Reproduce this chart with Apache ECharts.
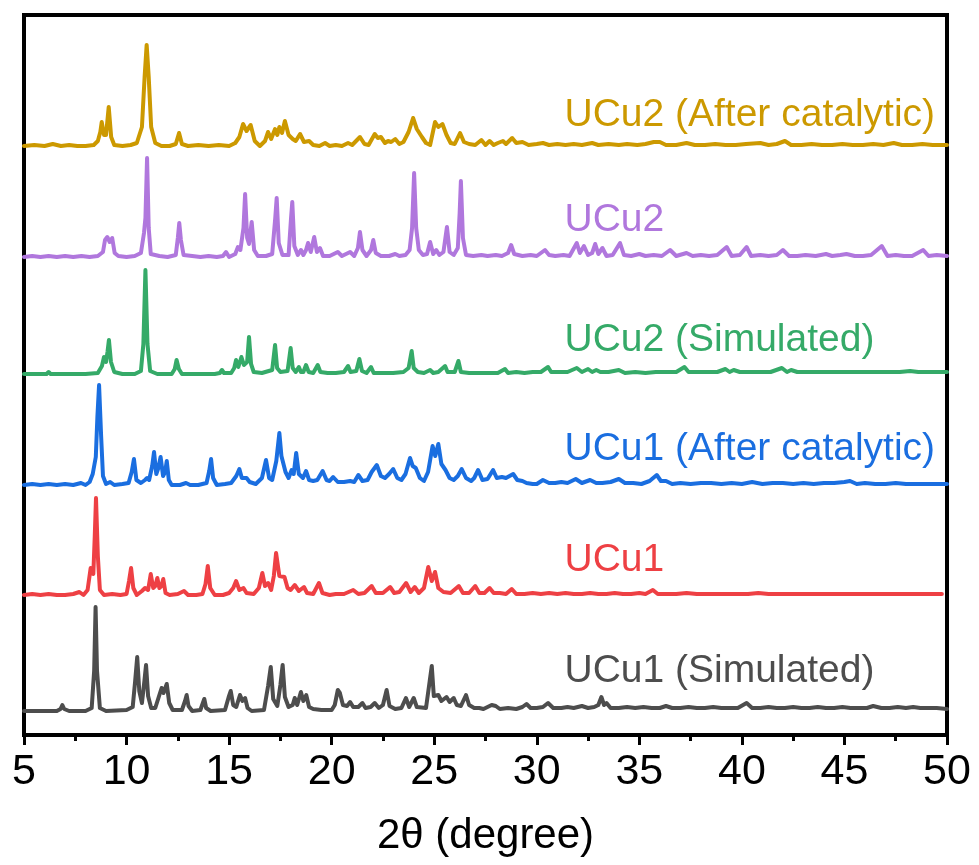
<!DOCTYPE html>
<html>
<head>
<meta charset="utf-8">
<script src="https://cdn.jsdelivr.net/npm/echarts@6/dist/echarts.min.js"></script>
<style>
html,body{margin:0;padding:0;background:#fff;}
#chart{width:979px;height:865px;}
</style>
</head>
<body>
<div id="chart"></div>
<script>
// Tick labels of the 2θ axis
var xTicks = [5, 10, 15, 20, 25, 30, 35, 40, 45, 50];

// Series names (top to bottom) and their colors
var seriesNames = ['UCu2 (After catalytic)', 'UCu2', 'UCu2 (Simulated)', 'UCu1 (After catalytic)', 'UCu1', 'UCu1 (Simulated)'];
var seriesColors = ['#CC9900', '#B077DD', '#35AA68', '#1A6EE0', '#EE4044', '#4D4D4D'];
// vertical offset (stacking) of each pattern, in intensity units
var offsets = [588, 477, 361, 249, 139, 24];

// Intensity data [2θ, intensity]
var ucu2After = [[5.0,1],[5.5,2],[6.0,1],[6.4,3],[6.8,1],[7.2,2],[7.6,1],[8.0,1],[8.4,2],[8.6,6],[8.72,15],[8.79,25],[8.9,12],[9.0,12],[9.13,40],[9.25,10],[9.4,2],[9.8,1],[10.2,2],[10.5,4],[10.75,20],[10.88,70],[10.98,102],[11.08,70],[11.2,20],[11.4,4],[11.7,1],[12.1,1],[12.4,3],[12.56,14],[12.7,3],[13.0,1],[13.5,2],[14.0,1],[14.5,2],[15.0,1],[15.3,4],[15.5,10],[15.68,23],[15.85,16],[16.05,22],[16.25,6],[16.5,1],[16.75,6],[16.9,15],[17.05,8],[17.24,18],[17.35,12],[17.45,20],[17.58,14],[17.72,26],[17.9,12],[18.1,8],[18.25,6],[18.46,13],[18.65,5],[18.9,6],[19.1,2],[19.4,1],[19.68,4],[19.9,1],[20.2,2],[20.5,1],[20.8,4],[21.0,2],[21.38,10],[21.6,3],[21.8,2],[22.1,13],[22.25,9],[22.4,10],[22.6,4],[22.75,6],[22.9,5],[23.1,8],[23.3,3],[23.5,5],[23.75,15],[23.97,29],[24.15,18],[24.4,10],[24.6,4],[24.8,2],[25.04,25],[25.2,20],[25.4,23],[25.6,12],[25.8,4],[26.0,3],[26.26,14],[26.45,5],[26.7,3],[27.0,2],[27.3,7],[27.5,2],[27.7,6],[27.9,2],[28.1,4],[28.35,6],[28.5,3],[28.8,9],[29.0,4],[29.3,5],[29.6,2],[30.0,3],[30.3,4],[30.6,2],[31.0,3],[31.4,2],[31.8,3],[32.2,2],[32.7,4],[33.0,2],[33.5,3],[34.0,2],[34.4,3],[34.9,2],[35.3,3],[35.7,5],[36.0,5],[36.3,2],[36.8,2],[37.3,4],[37.7,2],[38.2,2],[38.7,3],[39.2,2],[39.7,2],[40.2,3],[40.9,4],[41.3,2],[41.7,3],[42.1,6],[42.4,2],[42.9,2],[43.4,3],[43.9,2],[44.4,2],[44.9,3],[45.4,2],[45.9,2],[46.4,3],[46.9,2],[47.4,4],[47.8,2],[48.3,2],[48.8,3],[49.3,2],[49.7,2],[50.0,2]];

var ucu2 = [[5.0,1],[5.4,2],[5.8,1],[6.2,2],[6.6,1],[7.0,2],[7.4,1],[7.8,2],[8.2,1],[8.6,2],[8.85,6],[8.95,18],[9.06,21],[9.18,16],[9.3,20],[9.42,5],[9.6,2],[10.0,1],[10.4,2],[10.7,5],[10.85,25],[10.92,40],[11.0,100],[11.08,30],[11.18,4],[11.6,2],[12.0,1],[12.4,3],[12.5,20],[12.57,35],[12.65,18],[12.78,3],[13.2,2],[13.6,1],[14.0,2],[14.4,1],[14.7,2],[14.85,6],[15.0,1],[15.3,4],[15.43,11],[15.55,8],[15.7,30],[15.78,64],[15.88,20],[15.97,14],[16.1,36],[16.22,8],[16.4,2],[16.8,2],[17.1,4],[17.25,40],[17.32,60],[17.42,15],[17.6,3],[17.9,3],[18.02,40],[18.08,56],[18.18,12],[18.35,3],[18.5,8],[18.62,3],[18.75,8],[18.85,15],[18.98,6],[19.15,21],[19.28,6],[19.43,10],[19.58,2],[19.9,2],[20.3,6],[20.5,2],[20.9,6],[21.1,2],[21.28,10],[21.38,26],[21.5,8],[21.7,2],[21.92,8],[22.03,18],[22.15,5],[22.4,2],[22.8,2],[23.1,4],[23.3,2],[23.6,3],[23.8,8],[23.92,30],[24.02,85],[24.12,30],[24.25,8],[24.45,3],[24.65,4],[24.8,16],[24.95,4],[25.1,8],[25.25,3],[25.45,6],[25.62,31],[25.75,6],[25.95,3],[26.15,10],[26.24,45],[26.3,77],[26.4,20],[26.55,3],[26.9,2],[27.3,3],[27.6,2],[28.0,3],[28.3,2],[28.6,5],[28.75,13],[28.9,4],[29.3,2],[29.7,3],[30.0,2],[30.4,8],[30.6,3],[30.9,2],[31.3,3],[31.6,2],[31.95,15],[32.1,5],[32.3,12],[32.5,3],[32.7,5],[32.85,14],[33.0,4],[33.2,10],[33.4,2],[33.7,3],[34.06,15],[34.25,3],[34.6,2],[35.0,4],[35.3,2],[35.7,3],[36.1,2],[36.5,8],[36.8,2],[37.3,5],[37.6,2],[38.0,3],[38.4,2],[38.8,3],[39.26,11],[39.5,2],[39.9,3],[40.23,11],[40.45,2],[40.9,3],[41.3,2],[41.7,3],[42.0,8],[42.3,2],[42.7,2],[43.1,3],[43.6,2],[44.1,4],[44.4,2],[44.8,3],[45.1,4],[45.5,2],[45.9,2],[46.3,3],[46.82,12],[47.1,2],[47.5,3],[47.9,2],[48.3,2],[48.84,8],[49.1,2],[49.5,3],[50.0,2]];

var ucu2Sim = [[5.0,0],[5.8,0],[6.1,0],[6.2,2],[6.3,0],[7.0,0],[8.0,0],[8.6,1],[8.8,8],[8.9,17],[9.0,12],[9.07,22],[9.14,34],[9.24,12],[9.4,2],[9.8,0],[10.4,0],[10.7,3],[10.82,30],[10.92,104],[11.02,30],[11.15,3],[11.5,0],[12.2,0],[12.35,5],[12.44,14],[12.55,5],[12.7,0],[14.3,0],[14.55,1],[14.65,4],[14.75,1],[15.1,1],[15.25,6],[15.34,14],[15.45,7],[15.6,17],[15.72,9],[15.88,12],[15.97,37],[16.07,10],[16.2,2],[16.6,1],[17.1,4],[17.24,29],[17.34,6],[17.5,2],[17.85,3],[18.0,26],[18.1,6],[18.25,2],[18.4,7],[18.5,2],[18.62,2],[18.75,9],[18.88,2],[19.1,1],[19.32,9],[19.45,2],[19.8,1],[20.2,1],[20.6,2],[20.8,8],[20.92,2],[21.2,3],[21.35,15],[21.48,3],[21.7,1],[21.92,7],[22.05,1],[22.5,1],[23.0,1],[23.5,2],[23.75,6],[23.9,23],[24.0,6],[24.2,2],[24.5,1],[24.8,4],[24.95,1],[25.2,2],[25.53,8],[25.65,2],[26.0,2],[26.18,13],[26.3,2],[26.7,1],[27.2,1],[27.7,1],[28.1,1],[28.45,5],[28.6,1],[29.0,2],[29.4,1],[29.8,2],[30.2,2],[30.55,7],[30.7,2],[31.1,2],[31.5,2],[31.95,6],[32.2,2],[32.5,5],[32.7,2],[32.9,4],[33.1,2],[33.5,2],[34.0,4],[34.3,1],[34.8,2],[35.3,1],[35.8,2],[36.3,2],[36.8,2],[37.2,7],[37.4,2],[37.9,2],[38.4,2],[38.8,2],[39.2,5],[39.4,2],[39.6,4],[39.9,2],[40.4,2],[40.9,2],[41.4,2],[41.95,6],[42.2,2],[42.4,4],[42.7,2],[43.2,2],[43.7,2],[44.2,2],[44.7,2],[45.2,2],[45.7,2],[46.2,2],[46.7,2],[47.2,2],[47.7,2],[48.2,3],[48.6,2],[49.1,2],[49.6,2],[50.0,2]];

var ucu1After = [[5.0,1],[5.4,2],[5.8,1],[6.2,2],[6.6,1],[7.0,2],[7.4,1],[7.78,3],[8.0,1],[8.2,4],[8.35,12],[8.5,29],[8.58,70],[8.66,101],[8.76,50],[8.85,10],[9.0,2],[9.2,4],[9.4,1],[9.8,2],[10.1,3],[10.25,14],[10.36,27],[10.48,6],[10.7,3],[10.9,6],[11.0,8],[11.1,6],[11.25,20],[11.34,34],[11.45,12],[11.55,18],[11.66,29],[11.78,10],[11.88,14],[11.96,25],[12.06,6],[12.2,1],[12.6,1],[12.9,3],[13.1,1],[13.5,1],[13.9,3],[14.03,15],[14.12,27],[14.22,8],[14.4,1],[14.8,2],[15.1,3],[15.35,10],[15.5,17],[15.62,8],[15.85,8],[16.0,4],[16.3,2],[16.6,8],[16.8,26],[16.95,8],[17.1,6],[17.3,25],[17.45,53],[17.55,30],[17.75,14],[17.9,8],[18.05,16],[18.15,12],[18.27,33],[18.4,12],[18.6,8],[18.75,15],[18.9,6],[19.1,5],[19.3,6],[19.56,15],[19.75,6],[19.9,5],[20.07,9],[20.3,4],[20.6,4],[20.9,5],[21.1,4],[21.3,11],[21.5,5],[21.75,6],[21.95,14],[22.2,21],[22.4,10],[22.6,8],[22.8,12],[23.0,17],[23.2,8],[23.4,6],[23.6,12],[23.82,28],[23.95,20],[24.1,18],[24.3,8],[24.5,5],[24.7,14],[24.92,40],[25.05,30],[25.2,42],[25.35,22],[25.55,16],[25.75,8],[25.95,6],[26.15,10],[26.34,17],[26.55,8],[26.8,5],[26.95,8],[27.14,16],[27.35,6],[27.6,7],[27.87,16],[28.05,8],[28.3,9],[28.5,8],[28.85,12],[29.05,6],[29.3,5],[29.5,3],[29.8,2],[30.0,2],[30.3,6],[30.6,3],[30.9,3],[31.2,4],[31.5,3],[31.9,7],[32.2,3],[32.6,6],[32.9,3],[33.2,3],[33.6,4],[34.0,7],[34.3,3],[34.7,3],[35.1,2],[35.5,5],[35.85,11],[36.05,5],[36.3,5],[36.6,2],[37.0,3],[37.5,2],[38.0,3],[38.5,3],[39.0,2],[39.5,3],[40.0,2],[40.5,4],[41.0,2],[41.5,3],[42.0,3],[42.5,2],[43.0,3],[43.5,2],[44.0,3],[44.5,3],[45.0,4],[45.27,5],[45.6,2],[46.0,3],[46.5,2],[47.0,2],[47.5,3],[48.0,2],[48.5,2],[49.0,2],[49.5,2],[50.0,2]];

var ucu1 = [[5.0,1],[5.4,2],[5.8,1],[6.2,2],[6.6,1],[7.0,1],[7.4,2],[7.7,4],[7.9,1],[8.1,6],[8.25,28],[8.38,22],[8.45,60],[8.51,98],[8.6,40],[8.7,6],[8.9,1],[9.3,2],[9.7,1],[10.0,2],[10.12,15],[10.22,28],[10.33,8],[10.5,1],[10.75,5],[10.9,8],[11.05,6],[11.18,22],[11.3,8],[11.4,10],[11.5,18],[11.6,8],[11.7,10],[11.79,17],[11.9,3],[12.1,1],[12.5,2],[12.8,5],[13.0,1],[13.4,1],[13.7,2],[13.85,12],[13.96,30],[14.08,8],[14.3,1],[14.7,1],[15.0,3],[15.2,8],[15.34,15],[15.5,6],[15.7,8],[15.85,3],[16.2,2],[16.45,8],[16.62,23],[16.75,10],[16.9,13],[17.05,6],[17.18,20],[17.29,43],[17.45,20],[17.7,19],[17.85,8],[18.0,6],[18.2,11],[18.4,5],[18.65,9],[18.8,3],[19.1,2],[19.38,13],[19.55,3],[19.9,1],[20.2,2],[20.6,2],[21.05,6],[21.3,2],[21.6,3],[21.95,10],[22.15,3],[22.5,3],[22.85,9],[23.05,3],[23.3,4],[23.63,13],[23.85,4],[24.05,9],[24.25,3],[24.5,8],[24.71,29],[24.88,15],[25.04,24],[25.2,8],[25.45,4],[25.8,3],[26.2,10],[26.4,3],[26.7,3],[27.0,10],[27.2,3],[27.45,3],[27.7,8],[27.9,3],[28.2,3],[28.5,2],[28.78,7],[29.0,2],[29.4,2],[29.8,3],[30.2,2],[30.6,3],[31.0,2],[31.4,3],[31.8,2],[32.2,2],[32.6,3],[33.0,2],[33.4,2],[33.8,3],[34.2,2],[34.6,2],[35.0,3],[35.3,2],[35.66,6],[35.9,2],[36.3,2],[36.8,2],[37.3,3],[37.8,2],[38.3,2],[38.8,2],[39.3,2],[39.8,2],[40.3,2],[40.8,3],[41.3,2],[41.8,2],[42.3,2],[42.8,2],[43.3,2],[43.8,2],[44.3,2],[44.8,2],[45.3,2],[45.8,2],[46.3,2],[46.8,2],[47.3,2],[47.8,2],[48.3,2],[48.8,2],[49.3,2],[49.75,2]];

var ucu1Sim = [[5.0,0],[6.0,0],[6.6,0],[6.78,2],[6.87,6],[6.96,2],[7.2,0],[8.0,0],[8.3,3],[8.42,40],[8.49,104],[8.56,40],[8.7,3],[9.0,0],[10.0,1],[10.3,4],[10.42,30],[10.52,54],[10.62,20],[10.75,8],[10.87,30],[10.95,46],[11.05,15],[11.2,3],[11.4,3],[11.6,16],[11.71,23],[11.8,18],[11.96,27],[12.08,8],[12.25,1],[12.7,1],[12.85,10],[12.93,16],[13.02,5],[13.2,0],[13.6,1],[13.72,8],[13.79,12],[13.88,3],[14.1,0],[14.8,1],[14.98,14],[15.08,20],[15.2,6],[15.35,4],[15.53,16],[15.65,10],[15.78,13],[15.9,3],[16.1,0],[16.7,1],[16.9,25],[17.03,44],[17.15,12],[17.35,5],[17.5,26],[17.61,46],[17.72,14],[17.9,4],[18.1,6],[18.2,13],[18.32,6],[18.5,19],[18.62,10],[18.76,16],[18.9,4],[19.1,2],[19.5,1],[20.0,1],[20.15,6],[20.3,21],[20.4,18],[20.55,6],[20.75,5],[20.9,9],[21.05,4],[21.3,4],[21.5,8],[21.65,3],[21.9,4],[22.1,8],[22.3,3],[22.5,6],[22.68,21],[22.82,5],[23.1,2],[23.4,3],[23.62,13],[23.78,4],[24.0,13],[24.15,4],[24.6,3],[24.78,30],[24.88,45],[24.98,15],[25.2,16],[25.35,10],[25.6,14],[25.75,9],[25.95,13],[26.1,6],[26.3,5],[26.55,16],[26.7,6],[26.95,3],[27.2,3],[27.4,2],[27.8,6],[28.0,5],[28.2,2],[28.6,3],[29.0,2],[29.3,4],[29.5,7],[29.7,3],[30.0,3],[30.3,4],[30.55,8],[30.8,3],[31.2,3],[31.5,4],[31.8,3],[32.2,5],[32.5,3],[32.8,4],[33.0,6],[33.15,14],[33.28,6],[33.4,8],[33.6,3],[34.0,3],[34.4,4],[34.8,3],[35.2,4],[35.6,3],[36.0,3],[36.3,5],[36.6,3],[37.0,3],[37.4,4],[37.8,3],[38.2,3],[38.6,4],[39.0,3],[39.4,3],[39.8,3],[40.23,8],[40.5,3],[40.9,3],[41.3,4],[41.7,3],[42.1,3],[42.5,4],[42.9,3],[43.3,3],[43.7,4],[44.1,3],[44.5,3],[44.9,4],[45.3,3],[45.7,3],[46.1,3],[46.4,5],[46.8,3],[47.2,3],[47.6,4],[48.0,3],[48.35,4],[48.7,3],[49.1,3],[49.5,3],[50.0,2]];

var allData = [ucu2After, ucu2, ucu2Sim, ucu1After, ucu1, ucu1Sim];

// Label anchor positions (data coordinates)
var labelX = 31.35;
var labelY = [620, 515, 395, 286, 175, 64];

var FONT = '"Liberation Sans", Arial, Helvetica, sans-serif';
var chart = echarts.init(document.getElementById('chart'), null, {renderer: 'canvas'});

var series = allData.map(function (d, i) {
  return {
    name: seriesNames[i],
    type: 'line',
    showSymbol: false,
    symbol: 'none',
    smooth: false,
    data: d.map(function (p) { return [p[0], p[1] + offsets[i]]; }),
    lineStyle: {color: seriesColors[i], width: 4, join: 'round', cap: 'round', opacity: 1},
    itemStyle: {color: seriesColors[i]},
    z: 3
  };
});

chart.setOption({
  animation: false,
  backgroundColor: '#ffffff',
  grid: {left: 24, right: 32, top: 15, bottom: 130, show: true, borderColor: '#000', borderWidth: 4, backgroundColor: 'transparent'},
  xAxis: {
    type: 'value',
    min: 5, max: 50, interval: 5,
    name: '2θ (degree)',
    nameLocation: 'middle',
    nameGap: 80,
    nameTextStyle: {fontSize: 42, color: '#000', fontFamily: FONT},
    axisLine: {show: true, onZero: false, lineStyle: {color: '#000', width: 4}},
    axisTick: {show: true, inside: false, length: 10, lineStyle: {color: '#000', width: 3}},
    minorTick: {show: true, splitNumber: 2, length: 6, lineStyle: {color: '#000', width: 3}},
    axisLabel: {fontSize: 43, color: '#000', fontFamily: FONT, margin: 16, formatter: function (v) { return xTicks.indexOf(v) >= 0 ? String(v) : ''; }},
    splitLine: {show: false}
  },
  yAxis: {
    type: 'value',
    min: 0, max: 720,
    axisLine: {show: false},
    axisTick: {show: false},
    axisLabel: {show: false},
    splitLine: {show: false}
  },
  series: series
});

// Text labels placed through the chart's own coordinate conversion
var graphics = seriesNames.map(function (n, i) {
  var pt = chart.convertToPixel({gridIndex: 0}, [labelX, labelY[i]]);
  return {
    type: 'text',
    x: pt[0],
    y: pt[1],
    z: 10,
    style: {
      text: n,
      fill: seriesColors[i],
      opacity: 1,
      font: '39px ' + FONT,
      align: 'left',
      verticalAlign: 'middle'
    }
  };
});
chart.setOption({graphic: graphics});
</script>
</body>
</html>
